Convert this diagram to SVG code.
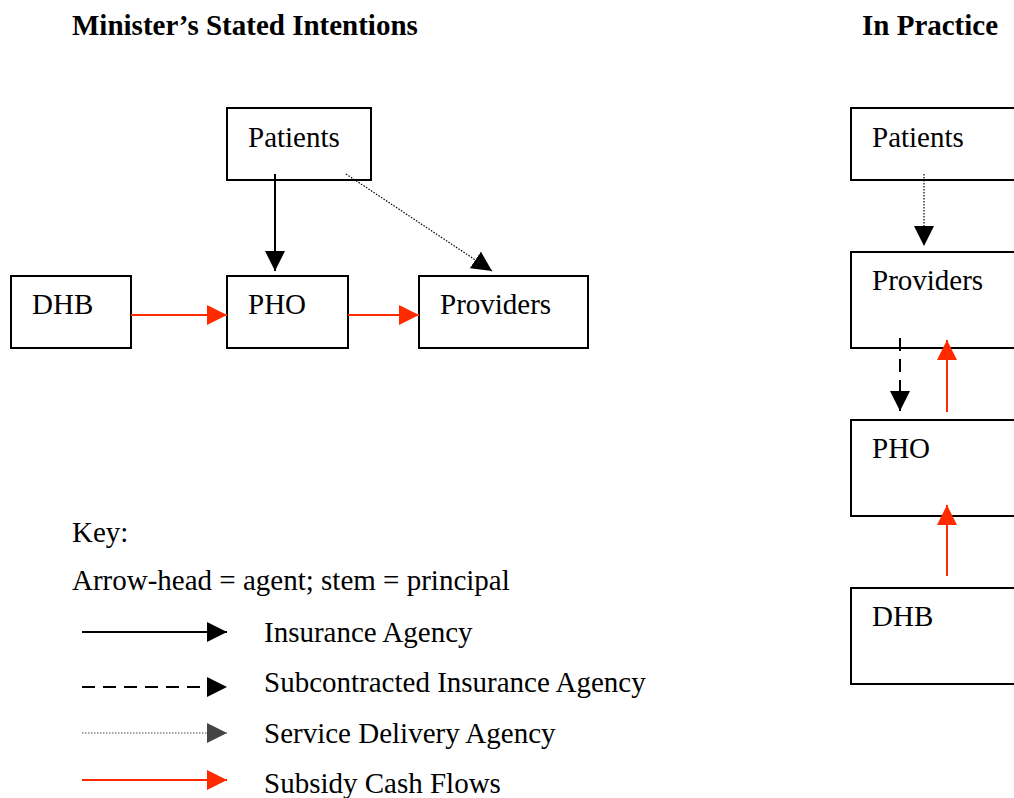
<svg xmlns="http://www.w3.org/2000/svg" width="1014" height="798" viewBox="0 0 1014 798">
  <style>
    text { font-family: "Liberation Serif", "Times New Roman", serif; font-size: 29px; fill: #000; }
    .title { font-weight: bold; font-size: 29px; }
    .box { fill: #fff; stroke: #000; stroke-width: 2; }
    .solid { stroke: #000; stroke-width: 2; fill: none; }
    .dash { stroke: #000; stroke-width: 2; stroke-dasharray: 13 8; fill: none; }
    .dot { stroke: #000; stroke-width: 1.2; stroke-dasharray: 1.5 1.5; fill: none; }
    .dotgrey { stroke: #444; stroke-width: 1.2; stroke-dasharray: 1.5 1.5; fill: none; }
    .red { stroke: #ff2a00; stroke-width: 2; fill: none; }
  </style>
  <defs>
    <marker id="hBlack" markerWidth="20" markerHeight="20" refX="20" refY="10" orient="auto" markerUnits="userSpaceOnUse">
      <path d="M0,0 L20,10 L0,20 Z" fill="#000"/>
    </marker>
    <marker id="hGrey" markerWidth="20" markerHeight="20" refX="20" refY="10" orient="auto" markerUnits="userSpaceOnUse">
      <path d="M0,0 L20,10 L0,20 Z" fill="#444"/>
    </marker>
    <marker id="hRed" markerWidth="20" markerHeight="20" refX="20" refY="10" orient="auto" markerUnits="userSpaceOnUse">
      <path d="M0,0 L20,10 L0,20 Z" fill="#ff2a00"/>
    </marker>
  </defs>

  <!-- headings -->
  <text class="title" x="72" y="35">Minister’s Stated Intentions</text>
  <text class="title" x="862" y="35">In Practice</text>

  <!-- left diagram -->
  <g id="l-patients"><rect class="box" x="227" y="108" width="144" height="72"/><text x="248" y="147">Patients</text></g>
  <g id="l-dhb"><rect class="box" x="11" y="276" width="120" height="72"/><text x="32" y="314">DHB</text></g>
  <g id="l-pho"><rect class="box" x="227" y="276" width="121" height="72"/><text x="248" y="314">PHO</text></g>
  <g id="l-providers"><rect class="box" x="419" y="276" width="169" height="72"/><text x="440" y="314">Providers</text></g>

  <!-- right diagram -->
  <g id="r-patients"><rect class="box" x="851" y="108" width="180" height="72"/><text x="872" y="147">Patients</text></g>
  <g id="r-providers"><rect class="box" x="851" y="252" width="180" height="96"/><text x="872" y="290">Providers</text></g>
  <g id="r-pho"><rect class="box" x="851" y="420" width="180" height="96"/><text x="872" y="458">PHO</text></g>
  <g id="r-dhb"><rect class="box" x="851" y="588" width="180" height="96"/><text x="872" y="626">DHB</text></g>

  <g id="connectors">
    <line class="solid" x1="275" y1="174" x2="275" y2="271" marker-end="url(#hBlack)"/>
    <line class="dot" x1="346" y1="174" x2="492" y2="271" marker-end="url(#hBlack)"/>
    <line class="red" x1="131" y1="315" x2="227" y2="315" marker-end="url(#hRed)"/>
    <line class="red" x1="348" y1="315" x2="419" y2="315" marker-end="url(#hRed)"/>

    <line class="dot" x1="924" y1="174" x2="924" y2="246" marker-end="url(#hBlack)"/>
    <line class="dash" x1="900" y1="338" x2="900" y2="411" marker-end="url(#hBlack)"/>
    <line class="red" x1="947" y1="412" x2="947" y2="340" marker-end="url(#hRed)"/>
    <line class="red" x1="947" y1="576" x2="947" y2="505" marker-end="url(#hRed)"/>
  </g>

  <!-- key -->
  <g id="key">
    <text x="72" y="542">Key:</text>
    <text x="72" y="590">Arrow-head = agent; stem = principal</text>
    <line class="solid" x1="82" y1="632" x2="227" y2="632" marker-end="url(#hBlack)"/>
    <text x="264" y="642">Insurance Agency</text>
    <line class="dash" x1="82" y1="687" x2="227" y2="687" marker-end="url(#hBlack)"/>
    <text x="264" y="692">Subcontracted Insurance Agency</text>
    <line class="dotgrey" x1="82" y1="733" x2="227" y2="733" marker-end="url(#hGrey)"/>
    <text x="264" y="743">Service Delivery Agency</text>
    <line class="red" x1="82" y1="780" x2="227" y2="780" marker-end="url(#hRed)"/>
    <text x="264" y="793">Subsidy Cash Flows</text>
  </g>
</svg>
